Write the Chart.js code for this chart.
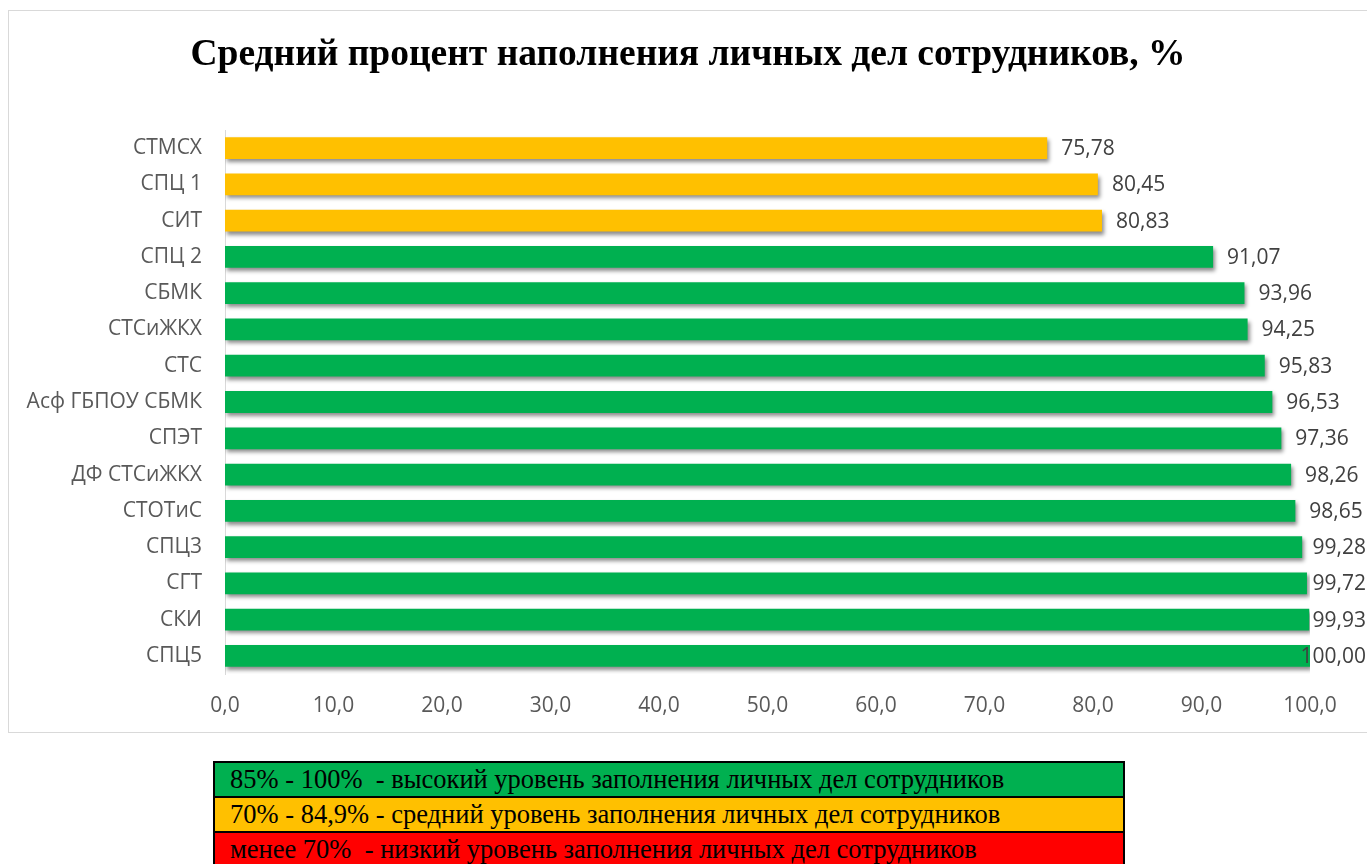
<!DOCTYPE html>
<html lang="ru">
<head>
<meta charset="utf-8">
<title>Средний процент наполнения личных дел сотрудников</title>
<script src="https://cdn.jsdelivr.net/npm/chart.js@4"></script>
<style>
  html, body { margin: 0; padding: 0; background: #fff; overflow: hidden; width: 1367px; height: 864px; }
  #frame {
    position: absolute; left: 8px; top: 10px;
    width: 1358px; height: 721px;
    border: 1px solid #d9d9d9;
  }
  #frame canvas { display: block; }
  #levels {
    position: absolute; left: 213px; top: 761px; width: 908px;
    border: 2px solid #000; border-bottom: none;
    font-family: "Liberation Serif", "Times New Roman", serif;
    font-size: 26.5px; color: #000;
  }
  #levels div { height: 33px; line-height: 32px; padding-left: 15px; border-bottom: 2px solid #000; white-space: pre; }
</style>
</head>
<body>
<div id="frame"><canvas id="chart" width="1358" height="721"></canvas></div>
<div id="levels">
  <div style="background:#00B050">85% - 100%  - высокий уровень заполнения личных дел сотрудников</div>
  <div style="background:#FFC000">70% - 84,9% - средний уровень заполнения личных дел сотрудников</div>
  <div style="background:#FF0000">менее 70%  - низкий уровень заполнения личных дел сотрудников</div>
</div>
<script>
// ── Data ──
const categories = ['СТМСХ', 'СПЦ 1', 'СИТ', 'СПЦ 2', 'СБМК', 'СТСиЖКХ', 'СТС', 'Асф ГБПОУ СБМК',
    'СПЭТ', 'ДФ СТСиЖКХ', 'СТОТиС', 'СПЦ3', 'СГТ', 'СКИ', 'СПЦ5'];
const values = [75.78, 80.45, 80.83, 91.07, 93.96, 94.25, 95.83, 96.53,
    97.36, 98.26, 98.65, 99.28, 99.72, 99.93, 100.00];
const xTicks = [0, 10, 20, 30, 40, 50, 60, 70, 80, 90, 100];

const GREEN = '#00B050', YELLOW = '#FFC000';
const barColors = values.map(v => v >= 85 ? GREEN : YELLOW);
const fmt = (v, d) => v.toFixed(d).replace('.', ',');
const LABEL_FONT = '21px "Open Sans", sans-serif';

// ── Bar shadow ──
const barShadow = {
    id: 'barShadow',
    beforeDatasetsDraw(chart) {
        const c = chart.ctx;
        c.save();
        c.shadowColor = 'rgba(0,0,0,0.45)';
        c.shadowBlur = 4;
        c.shadowOffsetX = 2;
        c.shadowOffsetY = 3;
    },
    afterDatasetsDraw(chart) { chart.ctx.restore(); }
};

// ── Value labels (Excel style: outside end, clamped to chart edge) ──
const valueLabels = {
    id: 'valueLabels',
    afterDatasetsDraw(chart) {
        const c = chart.ctx;
        const meta = chart.getDatasetMeta(0);
        c.save();
        c.font = LABEL_FONT;
        c.fillStyle = '#404040';
        c.textBaseline = 'middle';
        meta.data.forEach((bar, i) => {
            const txt = fmt(values[i], 2);
            const w = c.measureText(txt).width;
            const x = Math.min(bar.x + 14, chart.width - 1 - w);
            c.fillText(txt, x, bar.y + 1);
        });
        c.restore();
    }
};

new Chart(document.getElementById('chart'), {
    type: 'bar',
    data: {
        labels: categories,
        datasets: [{
            data: values,
            backgroundColor: barColors,
            borderWidth: 0,
            barPercentage: 0.6,
            categoryPercentage: 1.0,
        }]
    },
    options: {
        indexAxis: 'y',
        responsive: false,
        animation: false,
        layout: { padding: 0 },
        plugins: {
            legend: { display: false },
            tooltip: { enabled: false },
            title: {
                display: true,
                text: 'Средний процент наполнения личных дел сотрудников, %',
                color: '#000',
                font: { family: '"Liberation Serif", "Times New Roman", serif', size: 37.5, weight: 'bold' },
                padding: { top: 22, bottom: 52 },
            }
        },
        scales: {
            x: {
                min: 0, max: 100,
                afterBuildTicks: s => { s.ticks = xTicks.map(v => ({ value: v })); },
                afterFit: s => { s.height = 58; },
                grid: { display: false, drawTicks: false },
                border: { display: false },
                ticks: {
                    padding: 19,
                    color: '#595959',
                    font: { family: '"Open Sans", sans-serif', size: 21 },
                    callback: v => fmt(v, 1),
                    maxRotation: 0,
                }
            },
            y: {
                afterFit: s => { s.width = 216; },
                grid: { display: false, drawTicks: false },
                border: { display: true, color: '#d9d9d9', width: 1 },
                ticks: {
                    padding: 23,
                    color: '#595959',
                    font: { family: '"Open Sans", sans-serif', size: 21 },
                }
            },
            // empty right-hand gutter so the title stays centred on the whole frame
            gutter: {
                axis: 'y',
                position: 'right',
                afterFit: s => { s.width = 57; },
                grid: { display: false, drawTicks: false },
                border: { display: false },
                ticks: { display: false },
            }
        }
    },
    plugins: [barShadow, valueLabels]
});
</script>
</body>
</html>
